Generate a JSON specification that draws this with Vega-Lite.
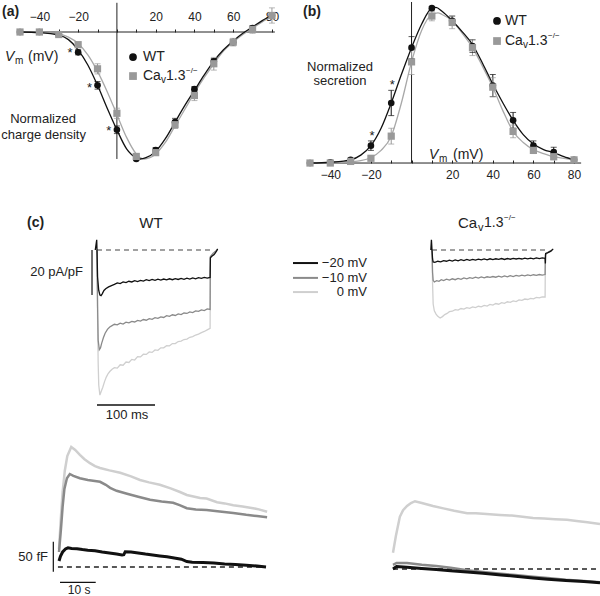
{
"$schema":"https://vega.github.io/schema/vega-lite/v6.json",
"padding":0,
"spacing":0,
"bounds":"flush",
"columns":2,
"config":{"view":{"stroke":null},"font":"Liberation Sans","concat":{"spacing":0},"text":{"color":"#222"}},
"datasets":{
"pts":[
{"p":"a","g":"WT","x":-50,"y":0,"lo":0,"hi":0},{"p":"a","g":"WT","x":-40,"y":0,"lo":0,"hi":0},{"p":"a","g":"WT","x":-30,"y":0.02,"lo":0.01,"hi":0.03},{"p":"a","g":"WT","x":-20,"y":0.16,"lo":0.14,"hi":0.18},{"p":"a","g":"WT","x":-10,"y":0.42,"lo":0.39,"hi":0.45},{"p":"a","g":"WT","x":0,"y":0.77,"lo":0.74,"hi":0.8},{"p":"a","g":"WT","x":10,"y":1.0,"lo":0.99,"hi":1.01},{"p":"a","g":"WT","x":20,"y":0.93,"lo":0.91,"hi":0.95},{"p":"a","g":"WT","x":30,"y":0.71,"lo":0.68,"hi":0.74},{"p":"a","g":"WT","x":40,"y":0.45,"lo":0.43,"hi":0.47},{"p":"a","g":"WT","x":50,"y":0.23,"lo":0.21,"hi":0.25},{"p":"a","g":"WT","x":60,"y":0.08,"lo":0.06,"hi":0.1},{"p":"a","g":"WT","x":70,"y":-0.03,"lo":-0.05,"hi":-0.01},{"p":"a","g":"WT","x":80,"y":-0.13,"lo":-0.15,"hi":-0.11},
{"p":"a","g":"KO","x":-50,"y":0,"lo":0,"hi":0},{"p":"a","g":"KO","x":-40,"y":0,"lo":0,"hi":0},{"p":"a","g":"KO","x":-30,"y":0.02,"lo":0.01,"hi":0.03},{"p":"a","g":"KO","x":-20,"y":0.1,"lo":0.08,"hi":0.12},{"p":"a","g":"KO","x":-10,"y":0.29,"lo":0.25,"hi":0.33},{"p":"a","g":"KO","x":0,"y":0.64,"lo":0.6,"hi":0.68},{"p":"a","g":"KO","x":10,"y":0.98,"lo":0.97,"hi":0.99},{"p":"a","g":"KO","x":20,"y":0.95,"lo":0.93,"hi":0.97},{"p":"a","g":"KO","x":30,"y":0.73,"lo":0.7,"hi":0.76},{"p":"a","g":"KO","x":40,"y":0.5,"lo":0.46,"hi":0.54},{"p":"a","g":"KO","x":50,"y":0.25,"lo":0.2,"hi":0.3},{"p":"a","g":"KO","x":60,"y":0.08,"lo":0.05,"hi":0.11},{"p":"a","g":"KO","x":70,"y":-0.02,"lo":-0.05,"hi":0.01},{"p":"a","g":"KO","x":80,"y":-0.13,"lo":-0.19,"hi":-0.07},
{"p":"b","g":"WT","x":-50,"y":0,"lo":0,"hi":0},{"p":"b","g":"WT","x":-40,"y":0.005,"lo":0.005,"hi":0.005},{"p":"b","g":"WT","x":-30,"y":0.02,"lo":0.01,"hi":0.03},{"p":"b","g":"WT","x":-20,"y":0.11,"lo":0.08,"hi":0.14},{"p":"b","g":"WT","x":-10,"y":0.38,"lo":0.3,"hi":0.46},{"p":"b","g":"WT","x":0,"y":0.73,"lo":0.66,"hi":0.8},{"p":"b","g":"WT","x":10,"y":0.98,"lo":0.97,"hi":0.99},{"p":"b","g":"WT","x":20,"y":0.9,"lo":0.87,"hi":0.93},{"p":"b","g":"WT","x":30,"y":0.74,"lo":0.7,"hi":0.78},{"p":"b","g":"WT","x":40,"y":0.49,"lo":0.42,"hi":0.56},{"p":"b","g":"WT","x":50,"y":0.27,"lo":0.22,"hi":0.32},{"p":"b","g":"WT","x":60,"y":0.11,"lo":0.08,"hi":0.14},{"p":"b","g":"WT","x":70,"y":0.07,"lo":0.04,"hi":0.1},{"p":"b","g":"WT","x":80,"y":0.02,"lo":0.01,"hi":0.03},
{"p":"b","g":"KO","x":-50,"y":0,"lo":0,"hi":0},{"p":"b","g":"KO","x":-40,"y":0,"lo":0,"hi":0},{"p":"b","g":"KO","x":-30,"y":0.01,"lo":0.01,"hi":0.01},{"p":"b","g":"KO","x":-20,"y":0.03,"lo":0.02,"hi":0.04},{"p":"b","g":"KO","x":-10,"y":0.17,"lo":0.12,"hi":0.22},{"p":"b","g":"KO","x":0,"y":0.64,"lo":0.56,"hi":0.72},{"p":"b","g":"KO","x":10,"y":0.93,"lo":0.9,"hi":0.96},{"p":"b","g":"KO","x":20,"y":0.89,"lo":0.85,"hi":0.93},{"p":"b","g":"KO","x":30,"y":0.73,"lo":0.68,"hi":0.78},{"p":"b","g":"KO","x":40,"y":0.48,"lo":0.42,"hi":0.54},{"p":"b","g":"KO","x":50,"y":0.2,"lo":0.16,"hi":0.24},{"p":"b","g":"KO","x":60,"y":0.08,"lo":0.06,"hi":0.1},{"p":"b","g":"KO","x":70,"y":0.04,"lo":0.02,"hi":0.06},{"p":"b","g":"KO","x":80,"y":0.02,"lo":0.01,"hi":0.03}
],
"fits":[
{"p":"a","g":"WT","x":-50,"y":0},{"p":"a","g":"WT","x":-40,"y":0.005},{"p":"a","g":"WT","x":-30,"y":0.025},{"p":"a","g":"WT","x":-25,"y":0.06},{"p":"a","g":"WT","x":-20,"y":0.14},{"p":"a","g":"WT","x":-15,"y":0.26},{"p":"a","g":"WT","x":-10,"y":0.42},{"p":"a","g":"WT","x":-5,"y":0.6},{"p":"a","g":"WT","x":0,"y":0.77},{"p":"a","g":"WT","x":5,"y":0.92},{"p":"a","g":"WT","x":10,"y":0.99},{"p":"a","g":"WT","x":12,"y":1.0},{"p":"a","g":"WT","x":15,"y":0.99},{"p":"a","g":"WT","x":20,"y":0.94},{"p":"a","g":"WT","x":25,"y":0.84},{"p":"a","g":"WT","x":30,"y":0.71},{"p":"a","g":"WT","x":35,"y":0.58},{"p":"a","g":"WT","x":40,"y":0.46},{"p":"a","g":"WT","x":45,"y":0.34},{"p":"a","g":"WT","x":50,"y":0.23},{"p":"a","g":"WT","x":55,"y":0.14},{"p":"a","g":"WT","x":60,"y":0.07},{"p":"a","g":"WT","x":65,"y":0.01},{"p":"a","g":"WT","x":70,"y":-0.04},{"p":"a","g":"WT","x":75,"y":-0.09},{"p":"a","g":"WT","x":80,"y":-0.13},
{"p":"a","g":"KO","x":-50,"y":0},{"p":"a","g":"KO","x":-40,"y":0.003},{"p":"a","g":"KO","x":-30,"y":0.015},{"p":"a","g":"KO","x":-25,"y":0.04},{"p":"a","g":"KO","x":-20,"y":0.09},{"p":"a","g":"KO","x":-15,"y":0.18},{"p":"a","g":"KO","x":-10,"y":0.31},{"p":"a","g":"KO","x":-5,"y":0.47},{"p":"a","g":"KO","x":0,"y":0.65},{"p":"a","g":"KO","x":5,"y":0.83},{"p":"a","g":"KO","x":10,"y":0.96},{"p":"a","g":"KO","x":14,"y":1.0},{"p":"a","g":"KO","x":17,"y":0.99},{"p":"a","g":"KO","x":20,"y":0.96},{"p":"a","g":"KO","x":25,"y":0.87},{"p":"a","g":"KO","x":30,"y":0.74},{"p":"a","g":"KO","x":35,"y":0.61},{"p":"a","g":"KO","x":40,"y":0.48},{"p":"a","g":"KO","x":45,"y":0.36},{"p":"a","g":"KO","x":50,"y":0.25},{"p":"a","g":"KO","x":55,"y":0.15},{"p":"a","g":"KO","x":60,"y":0.08},{"p":"a","g":"KO","x":65,"y":0.02},{"p":"a","g":"KO","x":70,"y":-0.03},{"p":"a","g":"KO","x":75,"y":-0.08},{"p":"a","g":"KO","x":80,"y":-0.12},
{"p":"b","g":"WT","x":-50,"y":0},{"p":"b","g":"WT","x":-40,"y":0.005},{"p":"b","g":"WT","x":-30,"y":0.02},{"p":"b","g":"WT","x":-25,"y":0.05},{"p":"b","g":"WT","x":-20,"y":0.11},{"p":"b","g":"WT","x":-15,"y":0.22},{"p":"b","g":"WT","x":-10,"y":0.38},{"p":"b","g":"WT","x":-5,"y":0.56},{"p":"b","g":"WT","x":0,"y":0.73},{"p":"b","g":"WT","x":5,"y":0.88},{"p":"b","g":"WT","x":10,"y":0.98},{"p":"b","g":"WT","x":12,"y":0.985},{"p":"b","g":"WT","x":15,"y":0.96},{"p":"b","g":"WT","x":20,"y":0.9},{"p":"b","g":"WT","x":25,"y":0.83},{"p":"b","g":"WT","x":30,"y":0.75},{"p":"b","g":"WT","x":35,"y":0.63},{"p":"b","g":"WT","x":40,"y":0.5},{"p":"b","g":"WT","x":45,"y":0.38},{"p":"b","g":"WT","x":50,"y":0.27},{"p":"b","g":"WT","x":55,"y":0.18},{"p":"b","g":"WT","x":60,"y":0.12},{"p":"b","g":"WT","x":65,"y":0.085},{"p":"b","g":"WT","x":70,"y":0.065},{"p":"b","g":"WT","x":75,"y":0.04},{"p":"b","g":"WT","x":80,"y":0.02},
{"p":"b","g":"KO","x":-50,"y":0},{"p":"b","g":"KO","x":-40,"y":0.002},{"p":"b","g":"KO","x":-30,"y":0.008},{"p":"b","g":"KO","x":-25,"y":0.015},{"p":"b","g":"KO","x":-20,"y":0.035},{"p":"b","g":"KO","x":-15,"y":0.08},{"p":"b","g":"KO","x":-10,"y":0.17},{"p":"b","g":"KO","x":-5,"y":0.38},{"p":"b","g":"KO","x":0,"y":0.64},{"p":"b","g":"KO","x":5,"y":0.84},{"p":"b","g":"KO","x":10,"y":0.94},{"p":"b","g":"KO","x":13,"y":0.95},{"p":"b","g":"KO","x":15,"y":0.94},{"p":"b","g":"KO","x":20,"y":0.9},{"p":"b","g":"KO","x":25,"y":0.82},{"p":"b","g":"KO","x":30,"y":0.73},{"p":"b","g":"KO","x":35,"y":0.61},{"p":"b","g":"KO","x":40,"y":0.48},{"p":"b","g":"KO","x":45,"y":0.33},{"p":"b","g":"KO","x":50,"y":0.2},{"p":"b","g":"KO","x":55,"y":0.13},{"p":"b","g":"KO","x":60,"y":0.085},{"p":"b","g":"KO","x":65,"y":0.06},{"p":"b","g":"KO","x":70,"y":0.04},{"p":"b","g":"KO","x":75,"y":0.03},{"p":"b","g":"KO","x":80,"y":0.02}
],
"cur":[
{"p":"c1","tr":"-20","x":-3,"y":0},{"p":"c1","tr":"-20","x":-0.5,"y":4.5},{"p":"c1","tr":"-20","x":0,"y":0},{"p":"c1","tr":"-20","x":1,"y":-12},{"p":"c1","tr":"-20","x":3,"y":-18},{"p":"c1","tr":"-20","x":5,"y":-20},{"p":"c1","tr":"-20","x":7,"y":-20.3},{"p":"c1","tr":"-20","x":9,"y":-19.5},{"p":"c1","tr":"-20","x":12,"y":-18},{"p":"c1","tr":"-20","x":15,"y":-17.2},{"p":"c1","tr":"-20","x":20,"y":-16.4},{"p":"c1","tr":"-20","x":25,"y":-15.8},{"p":"c1","tr":"-20","x":30,"y":-15.3},{"p":"c1","tr":"-20","x":35,"y":-14.6},{"p":"c1","tr":"-20","x":40,"y":-14.9},{"p":"c1","tr":"-20","x":45,"y":-14.2},{"p":"c1","tr":"-20","x":50,"y":-14.5},{"p":"c1","tr":"-20","x":55,"y":-13.9},{"p":"c1","tr":"-20","x":60,"y":-14.2},{"p":"c1","tr":"-20","x":65,"y":-13.6},{"p":"c1","tr":"-20","x":70,"y":-14},{"p":"c1","tr":"-20","x":75,"y":-13.5},{"p":"c1","tr":"-20","x":80,"y":-13.8},{"p":"c1","tr":"-20","x":85,"y":-13.2},{"p":"c1","tr":"-20","x":90,"y":-13.6},{"p":"c1","tr":"-20","x":95,"y":-13.1},{"p":"c1","tr":"-20","x":100,"y":-13.5},{"p":"c1","tr":"-20","x":105,"y":-13},{"p":"c1","tr":"-20","x":110,"y":-13.4},{"p":"c1","tr":"-20","x":115,"y":-12.9},{"p":"c1","tr":"-20","x":120,"y":-13.3},{"p":"c1","tr":"-20","x":125,"y":-12.8},{"p":"c1","tr":"-20","x":130,"y":-13.2},{"p":"c1","tr":"-20","x":135,"y":-12.7},{"p":"c1","tr":"-20","x":140,"y":-13.1},{"p":"c1","tr":"-20","x":145,"y":-12.6},{"p":"c1","tr":"-20","x":150,"y":-13},{"p":"c1","tr":"-20","x":155,"y":-12.5},{"p":"c1","tr":"-20","x":160,"y":-12.9},{"p":"c1","tr":"-20","x":165,"y":-12.4},{"p":"c1","tr":"-20","x":170,"y":-12.8},{"p":"c1","tr":"-20","x":175,"y":-12.3},{"p":"c1","tr":"-20","x":180,"y":-12.6},{"p":"c1","tr":"-20","x":185,"y":-12.2},{"p":"c1","tr":"-20","x":190,"y":-12.5},{"p":"c1","tr":"-20","x":195,"y":-12.2},{"p":"c1","tr":"-20","x":195.5,"y":-3.5},{"p":"c1","tr":"-20","x":198,"y":-2.8},{"p":"c1","tr":"-20","x":202,"y":-2},{"p":"c1","tr":"-20","x":206,"y":-0.5},{"p":"c1","tr":"-20","x":208,"y":0.5},
{"p":"c1","tr":"-10","x":0,"y":0},{"p":"c1","tr":"-10","x":1,"y":-25},{"p":"c1","tr":"-10","x":2,"y":-40},{"p":"c1","tr":"-10","x":4,"y":-44.3},{"p":"c1","tr":"-10","x":6,"y":-43.5},{"p":"c1","tr":"-10","x":8,"y":-41.5},{"p":"c1","tr":"-10","x":11,"y":-39},{"p":"c1","tr":"-10","x":14,"y":-37},{"p":"c1","tr":"-10","x":18,"y":-35.3},{"p":"c1","tr":"-10","x":22,"y":-34.2},{"p":"c1","tr":"-10","x":26,"y":-33.6},{"p":"c1","tr":"-10","x":30,"y":-33},{"p":"c1","tr":"-10","x":35,"y":-33.3},{"p":"c1","tr":"-10","x":40,"y":-32.5},{"p":"c1","tr":"-10","x":45,"y":-32.9},{"p":"c1","tr":"-10","x":50,"y":-32.1},{"p":"c1","tr":"-10","x":55,"y":-32.4},{"p":"c1","tr":"-10","x":60,"y":-31.7},{"p":"c1","tr":"-10","x":65,"y":-32},{"p":"c1","tr":"-10","x":70,"y":-31.3},{"p":"c1","tr":"-10","x":75,"y":-31.6},{"p":"c1","tr":"-10","x":80,"y":-30.9},{"p":"c1","tr":"-10","x":85,"y":-31.2},{"p":"c1","tr":"-10","x":90,"y":-30.5},{"p":"c1","tr":"-10","x":95,"y":-30.8},{"p":"c1","tr":"-10","x":100,"y":-30.1},{"p":"c1","tr":"-10","x":105,"y":-30.4},{"p":"c1","tr":"-10","x":110,"y":-29.7},{"p":"c1","tr":"-10","x":115,"y":-30},{"p":"c1","tr":"-10","x":120,"y":-29.2},{"p":"c1","tr":"-10","x":125,"y":-29.5},{"p":"c1","tr":"-10","x":130,"y":-28.8},{"p":"c1","tr":"-10","x":135,"y":-29.1},{"p":"c1","tr":"-10","x":140,"y":-28.4},{"p":"c1","tr":"-10","x":145,"y":-28.7},{"p":"c1","tr":"-10","x":150,"y":-28},{"p":"c1","tr":"-10","x":155,"y":-28.2},{"p":"c1","tr":"-10","x":160,"y":-27.5},{"p":"c1","tr":"-10","x":165,"y":-27.8},{"p":"c1","tr":"-10","x":170,"y":-27.1},{"p":"c1","tr":"-10","x":175,"y":-27.3},{"p":"c1","tr":"-10","x":180,"y":-26.6},{"p":"c1","tr":"-10","x":185,"y":-26.9},{"p":"c1","tr":"-10","x":190,"y":-26.2},{"p":"c1","tr":"-10","x":195,"y":-26.4},{"p":"c1","tr":"-10","x":195.5,"y":-3},{"p":"c1","tr":"-10","x":200,"y":-1.5},{"p":"c1","tr":"-10","x":207,"y":0},
{"p":"c1","tr":"0","x":0,"y":0},{"p":"c1","tr":"0","x":1,"y":-30},{"p":"c1","tr":"0","x":2,"y":-50},{"p":"c1","tr":"0","x":3,"y":-60},{"p":"c1","tr":"0","x":5,"y":-64.5},{"p":"c1","tr":"0","x":7,"y":-63},{"p":"c1","tr":"0","x":10,"y":-61},{"p":"c1","tr":"0","x":13,"y":-58.5},{"p":"c1","tr":"0","x":16,"y":-56.5},{"p":"c1","tr":"0","x":19,"y":-55},{"p":"c1","tr":"0","x":22,"y":-54},{"p":"c1","tr":"0","x":26,"y":-53},{"p":"c1","tr":"0","x":30,"y":-52.3},{"p":"c1","tr":"0","x":35,"y":-52.5},{"p":"c1","tr":"0","x":40,"y":-51},{"p":"c1","tr":"0","x":45,"y":-51.2},{"p":"c1","tr":"0","x":50,"y":-49.8},{"p":"c1","tr":"0","x":55,"y":-50},{"p":"c1","tr":"0","x":60,"y":-48.6},{"p":"c1","tr":"0","x":65,"y":-48.9},{"p":"c1","tr":"0","x":70,"y":-47.4},{"p":"c1","tr":"0","x":75,"y":-47.5},{"p":"c1","tr":"0","x":80,"y":-46.3},{"p":"c1","tr":"0","x":85,"y":-46.4},{"p":"c1","tr":"0","x":90,"y":-45.3},{"p":"c1","tr":"0","x":95,"y":-45.5},{"p":"c1","tr":"0","x":100,"y":-44.4},{"p":"c1","tr":"0","x":105,"y":-44.6},{"p":"c1","tr":"0","x":110,"y":-43.5},{"p":"c1","tr":"0","x":115,"y":-43.5},{"p":"c1","tr":"0","x":120,"y":-42.5},{"p":"c1","tr":"0","x":125,"y":-42.6},{"p":"c1","tr":"0","x":130,"y":-41.6},{"p":"c1","tr":"0","x":135,"y":-41.6},{"p":"c1","tr":"0","x":140,"y":-40.7},{"p":"c1","tr":"0","x":145,"y":-40.5},{"p":"c1","tr":"0","x":150,"y":-39.8},{"p":"c1","tr":"0","x":155,"y":-39.6},{"p":"c1","tr":"0","x":160,"y":-38.8},{"p":"c1","tr":"0","x":165,"y":-38.5},{"p":"c1","tr":"0","x":170,"y":-37.8},{"p":"c1","tr":"0","x":175,"y":-37.4},{"p":"c1","tr":"0","x":180,"y":-36.7},{"p":"c1","tr":"0","x":185,"y":-36.2},{"p":"c1","tr":"0","x":190,"y":-35.5},{"p":"c1","tr":"0","x":195,"y":-34.8},{"p":"c1","tr":"0","x":195.5,"y":-3},{"p":"c1","tr":"0","x":200,"y":-1.5},{"p":"c1","tr":"0","x":207,"y":0},
{"p":"c2","tr":"-20","x":-2,"y":0},{"p":"c2","tr":"-20","x":-1,"y":4.5},{"p":"c2","tr":"-20","x":0,"y":0},{"p":"c2","tr":"-20","x":1,"y":-4},{"p":"c2","tr":"-20","x":2,"y":-5.3},{"p":"c2","tr":"-20","x":5,"y":-5.5},{"p":"c2","tr":"-20","x":10,"y":-5},{"p":"c2","tr":"-20","x":15,"y":-5.3},{"p":"c2","tr":"-20","x":20,"y":-4.7},{"p":"c2","tr":"-20","x":25,"y":-5},{"p":"c2","tr":"-20","x":30,"y":-4.5},{"p":"c2","tr":"-20","x":35,"y":-4.9},{"p":"c2","tr":"-20","x":40,"y":-4.4},{"p":"c2","tr":"-20","x":45,"y":-4.8},{"p":"c2","tr":"-20","x":50,"y":-4.3},{"p":"c2","tr":"-20","x":55,"y":-4.7},{"p":"c2","tr":"-20","x":60,"y":-4.2},{"p":"c2","tr":"-20","x":65,"y":-4.6},{"p":"c2","tr":"-20","x":70,"y":-4.2},{"p":"c2","tr":"-20","x":75,"y":-4.5},{"p":"c2","tr":"-20","x":80,"y":-4.1},{"p":"c2","tr":"-20","x":85,"y":-4.4},{"p":"c2","tr":"-20","x":90,"y":-4},{"p":"c2","tr":"-20","x":95,"y":-4.4},{"p":"c2","tr":"-20","x":100,"y":-3.9},{"p":"c2","tr":"-20","x":105,"y":-4.3},{"p":"c2","tr":"-20","x":110,"y":-3.9},{"p":"c2","tr":"-20","x":115,"y":-4.2},{"p":"c2","tr":"-20","x":120,"y":-3.8},{"p":"c2","tr":"-20","x":125,"y":-4.2},{"p":"c2","tr":"-20","x":130,"y":-3.8},{"p":"c2","tr":"-20","x":135,"y":-4.1},{"p":"c2","tr":"-20","x":140,"y":-3.7},{"p":"c2","tr":"-20","x":145,"y":-4},{"p":"c2","tr":"-20","x":150,"y":-3.7},{"p":"c2","tr":"-20","x":155,"y":-4},{"p":"c2","tr":"-20","x":160,"y":-3.6},{"p":"c2","tr":"-20","x":165,"y":-3.9},{"p":"c2","tr":"-20","x":170,"y":-3.6},{"p":"c2","tr":"-20","x":175,"y":-3.9},{"p":"c2","tr":"-20","x":180,"y":-3.5},{"p":"c2","tr":"-20","x":185,"y":-3.8},{"p":"c2","tr":"-20","x":190,"y":-3.5},{"p":"c2","tr":"-20","x":195,"y":-3.7},{"p":"c2","tr":"-20","x":195.5,"y":-6},{"p":"c2","tr":"-20","x":196,"y":-1.5},{"p":"c2","tr":"-20","x":200,"y":-1.2},{"p":"c2","tr":"-20","x":205,"y":-0.5},{"p":"c2","tr":"-20","x":209,"y":0.5},
{"p":"c2","tr":"-10","x":0,"y":0},{"p":"c2","tr":"-10","x":1,"y":-10},{"p":"c2","tr":"-10","x":2,"y":-13.5},{"p":"c2","tr":"-10","x":4,"y":-14.2},{"p":"c2","tr":"-10","x":8,"y":-13.6},{"p":"c2","tr":"-10","x":12,"y":-13.9},{"p":"c2","tr":"-10","x":16,"y":-13.2},{"p":"c2","tr":"-10","x":20,"y":-13.6},{"p":"c2","tr":"-10","x":25,"y":-13},{"p":"c2","tr":"-10","x":30,"y":-13.4},{"p":"c2","tr":"-10","x":35,"y":-12.8},{"p":"c2","tr":"-10","x":40,"y":-13.2},{"p":"c2","tr":"-10","x":45,"y":-12.6},{"p":"c2","tr":"-10","x":50,"y":-13},{"p":"c2","tr":"-10","x":55,"y":-12.4},{"p":"c2","tr":"-10","x":60,"y":-12.8},{"p":"c2","tr":"-10","x":65,"y":-12.3},{"p":"c2","tr":"-10","x":70,"y":-12.6},{"p":"c2","tr":"-10","x":75,"y":-12.1},{"p":"c2","tr":"-10","x":80,"y":-12.5},{"p":"c2","tr":"-10","x":85,"y":-12},{"p":"c2","tr":"-10","x":90,"y":-12.4},{"p":"c2","tr":"-10","x":95,"y":-11.9},{"p":"c2","tr":"-10","x":100,"y":-12.2},{"p":"c2","tr":"-10","x":105,"y":-11.8},{"p":"c2","tr":"-10","x":110,"y":-12.1},{"p":"c2","tr":"-10","x":115,"y":-11.6},{"p":"c2","tr":"-10","x":120,"y":-12},{"p":"c2","tr":"-10","x":125,"y":-11.5},{"p":"c2","tr":"-10","x":130,"y":-11.9},{"p":"c2","tr":"-10","x":135,"y":-11.4},{"p":"c2","tr":"-10","x":140,"y":-11.8},{"p":"c2","tr":"-10","x":145,"y":-11.3},{"p":"c2","tr":"-10","x":150,"y":-11.6},{"p":"c2","tr":"-10","x":155,"y":-11.2},{"p":"c2","tr":"-10","x":160,"y":-11.5},{"p":"c2","tr":"-10","x":165,"y":-11.1},{"p":"c2","tr":"-10","x":170,"y":-11.4},{"p":"c2","tr":"-10","x":175,"y":-11},{"p":"c2","tr":"-10","x":180,"y":-11.3},{"p":"c2","tr":"-10","x":185,"y":-10.9},{"p":"c2","tr":"-10","x":190,"y":-11.2},{"p":"c2","tr":"-10","x":195,"y":-10.9},{"p":"c2","tr":"-10","x":195.5,"y":-2},{"p":"c2","tr":"-10","x":200,"y":-1},{"p":"c2","tr":"-10","x":207,"y":0},
{"p":"c2","tr":"0","x":0,"y":0},{"p":"c2","tr":"0","x":1,"y":-15},{"p":"c2","tr":"0","x":2,"y":-24},{"p":"c2","tr":"0","x":4,"y":-27},{"p":"c2","tr":"0","x":7,"y":-28.5},{"p":"c2","tr":"0","x":10,"y":-29.5},{"p":"c2","tr":"0","x":14,"y":-30.2},{"p":"c2","tr":"0","x":18,"y":-29.6},{"p":"c2","tr":"0","x":22,"y":-28.7},{"p":"c2","tr":"0","x":26,"y":-28.2},{"p":"c2","tr":"0","x":30,"y":-27.4},{"p":"c2","tr":"0","x":35,"y":-27.2},{"p":"c2","tr":"0","x":40,"y":-26.5},{"p":"c2","tr":"0","x":45,"y":-26.7},{"p":"c2","tr":"0","x":50,"y":-26},{"p":"c2","tr":"0","x":55,"y":-26.3},{"p":"c2","tr":"0","x":60,"y":-25.6},{"p":"c2","tr":"0","x":65,"y":-25.9},{"p":"c2","tr":"0","x":70,"y":-25.3},{"p":"c2","tr":"0","x":75,"y":-25.6},{"p":"c2","tr":"0","x":80,"y":-25},{"p":"c2","tr":"0","x":85,"y":-25.3},{"p":"c2","tr":"0","x":90,"y":-24.6},{"p":"c2","tr":"0","x":95,"y":-24.9},{"p":"c2","tr":"0","x":100,"y":-24.2},{"p":"c2","tr":"0","x":105,"y":-24.5},{"p":"c2","tr":"0","x":110,"y":-23.8},{"p":"c2","tr":"0","x":115,"y":-24.1},{"p":"c2","tr":"0","x":120,"y":-23.4},{"p":"c2","tr":"0","x":125,"y":-23.7},{"p":"c2","tr":"0","x":130,"y":-23},{"p":"c2","tr":"0","x":135,"y":-23.3},{"p":"c2","tr":"0","x":140,"y":-22.6},{"p":"c2","tr":"0","x":145,"y":-22.9},{"p":"c2","tr":"0","x":150,"y":-22.2},{"p":"c2","tr":"0","x":155,"y":-22.4},{"p":"c2","tr":"0","x":160,"y":-21.8},{"p":"c2","tr":"0","x":165,"y":-22},{"p":"c2","tr":"0","x":170,"y":-21.5},{"p":"c2","tr":"0","x":175,"y":-21.7},{"p":"c2","tr":"0","x":180,"y":-21.1},{"p":"c2","tr":"0","x":185,"y":-21.3},{"p":"c2","tr":"0","x":190,"y":-20.8},{"p":"c2","tr":"0","x":195,"y":-20.9},{"p":"c2","tr":"0","x":195.5,"y":-2},{"p":"c2","tr":"0","x":200,"y":-1},{"p":"c2","tr":"0","x":207,"y":0}
],
"cap":[
{"p":"d1","tr":"-20","x":0,"y":10},{"p":"d1","tr":"-20","x":0.4,"y":18},{"p":"d1","tr":"-20","x":1,"y":25},{"p":"d1","tr":"-20","x":1.8,"y":30},{"p":"d1","tr":"-20","x":2.5,"y":32},{"p":"d1","tr":"-20","x":3.5,"y":31},{"p":"d1","tr":"-20","x":5,"y":30.5},{"p":"d1","tr":"-20","x":6.5,"y":29},{"p":"d1","tr":"-20","x":8,"y":28},{"p":"d1","tr":"-20","x":10,"y":27},{"p":"d1","tr":"-20","x":12,"y":25},{"p":"d1","tr":"-20","x":14,"y":23.5},{"p":"d1","tr":"-20","x":16,"y":21.5},{"p":"d1","tr":"-20","x":17.5,"y":20},{"p":"d1","tr":"-20","x":18,"y":20.5},{"p":"d1","tr":"-20","x":18.4,"y":25.5},{"p":"d1","tr":"-20","x":20,"y":25},{"p":"d1","tr":"-20","x":22,"y":23.5},{"p":"d1","tr":"-20","x":24,"y":21.5},{"p":"d1","tr":"-20","x":26,"y":20},{"p":"d1","tr":"-20","x":28,"y":18.5},{"p":"d1","tr":"-20","x":30,"y":17},{"p":"d1","tr":"-20","x":32,"y":15},{"p":"d1","tr":"-20","x":34,"y":13},{"p":"d1","tr":"-20","x":35.5,"y":9},{"p":"d1","tr":"-20","x":37,"y":8},{"p":"d1","tr":"-20","x":40,"y":7.5},{"p":"d1","tr":"-20","x":43,"y":6.5},{"p":"d1","tr":"-20","x":46,"y":5},{"p":"d1","tr":"-20","x":49,"y":4},{"p":"d1","tr":"-20","x":52,"y":3},{"p":"d1","tr":"-20","x":55,"y":1.5},{"p":"d1","tr":"-20","x":57.5,"y":0},
{"p":"d1","tr":"-10","x":0,"y":25},{"p":"d1","tr":"-10","x":0.5,"y":60},{"p":"d1","tr":"-10","x":1,"y":100},{"p":"d1","tr":"-10","x":1.5,"y":130},{"p":"d1","tr":"-10","x":2.2,"y":148},{"p":"d1","tr":"-10","x":3,"y":155},{"p":"d1","tr":"-10","x":4,"y":152},{"p":"d1","tr":"-10","x":5.8,"y":148},{"p":"d1","tr":"-10","x":8,"y":145},{"p":"d1","tr":"-10","x":11.4,"y":142},{"p":"d1","tr":"-10","x":13,"y":137},{"p":"d1","tr":"-10","x":14.2,"y":132},{"p":"d1","tr":"-10","x":16,"y":127},{"p":"d1","tr":"-10","x":18.9,"y":122},{"p":"d1","tr":"-10","x":22,"y":117},{"p":"d1","tr":"-10","x":25.3,"y":112},{"p":"d1","tr":"-10","x":28.5,"y":109},{"p":"d1","tr":"-10","x":31.7,"y":107},{"p":"d1","tr":"-10","x":33.5,"y":103},{"p":"d1","tr":"-10","x":35.5,"y":98},{"p":"d1","tr":"-10","x":38,"y":96},{"p":"d1","tr":"-10","x":41,"y":95},{"p":"d1","tr":"-10","x":44,"y":93},{"p":"d1","tr":"-10","x":48.4,"y":90},{"p":"d1","tr":"-10","x":52,"y":87},{"p":"d1","tr":"-10","x":55,"y":85},{"p":"d1","tr":"-10","x":57.8,"y":83},
{"p":"d1","tr":"0","x":0,"y":30},{"p":"d1","tr":"0","x":0.5,"y":80},{"p":"d1","tr":"0","x":1,"y":125},{"p":"d1","tr":"0","x":1.6,"y":160},{"p":"d1","tr":"0","x":2.3,"y":185},{"p":"d1","tr":"0","x":3.4,"y":200},{"p":"d1","tr":"0","x":4.5,"y":195},{"p":"d1","tr":"0","x":5.8,"y":187},{"p":"d1","tr":"0","x":7,"y":180},{"p":"d1","tr":"0","x":8.6,"y":173},{"p":"d1","tr":"0","x":10,"y":168},{"p":"d1","tr":"0","x":11.4,"y":165},{"p":"d1","tr":"0","x":14,"y":161},{"p":"d1","tr":"0","x":17,"y":157},{"p":"d1","tr":"0","x":20,"y":151},{"p":"d1","tr":"0","x":22.5,"y":145},{"p":"d1","tr":"0","x":25,"y":141},{"p":"d1","tr":"0","x":28,"y":137},{"p":"d1","tr":"0","x":31,"y":131},{"p":"d1","tr":"0","x":33.6,"y":125},{"p":"d1","tr":"0","x":35.5,"y":120},{"p":"d1","tr":"0","x":39.2,"y":115},{"p":"d1","tr":"0","x":41,"y":114},{"p":"d1","tr":"0","x":43.9,"y":108},{"p":"d1","tr":"0","x":46,"y":106},{"p":"d1","tr":"0","x":48.4,"y":103},{"p":"d1","tr":"0","x":51,"y":101},{"p":"d1","tr":"0","x":53.9,"y":98},{"p":"d1","tr":"0","x":55.5,"y":96},{"p":"d1","tr":"0","x":57.8,"y":92},
{"p":"d2","tr":"0","x":0,"y":27},{"p":"d2","tr":"0","x":0.8,"y":55},{"p":"d2","tr":"0","x":1.9,"y":87},{"p":"d2","tr":"0","x":2.8,"y":98},{"p":"d2","tr":"0","x":3.9,"y":105},{"p":"d2","tr":"0","x":5,"y":110},{"p":"d2","tr":"0","x":6.1,"y":113},{"p":"d2","tr":"0","x":8,"y":110},{"p":"d2","tr":"0","x":11.1,"y":105},{"p":"d2","tr":"0","x":14,"y":101},{"p":"d2","tr":"0","x":17,"y":97},{"p":"d2","tr":"0","x":20.6,"y":93},{"p":"d2","tr":"0","x":23,"y":93},{"p":"d2","tr":"0","x":25,"y":92},{"p":"d2","tr":"0","x":29.7,"y":90},{"p":"d2","tr":"0","x":33,"y":89},{"p":"d2","tr":"0","x":36,"y":87},{"p":"d2","tr":"0","x":38.9,"y":85},{"p":"d2","tr":"0","x":42,"y":84},{"p":"d2","tr":"0","x":45,"y":83},{"p":"d2","tr":"0","x":48.3,"y":82},{"p":"d2","tr":"0","x":51,"y":80},{"p":"d2","tr":"0","x":54,"y":78},{"p":"d2","tr":"0","x":57.5,"y":75},
{"p":"d2","tr":"-10","x":0,"y":7},{"p":"d2","tr":"-10","x":1,"y":10},{"p":"d2","tr":"-10","x":3.9,"y":10},{"p":"d2","tr":"-10","x":8,"y":7},{"p":"d2","tr":"-10","x":12,"y":5},{"p":"d2","tr":"-10","x":16,"y":2},{"p":"d2","tr":"-10","x":20.6,"y":-2},{"p":"d2","tr":"-10","x":25,"y":-5},{"p":"d2","tr":"-10","x":30,"y":-8},{"p":"d2","tr":"-10","x":34,"y":-10},{"p":"d2","tr":"-10","x":38.9,"y":-13},{"p":"d2","tr":"-10","x":43,"y":-15},{"p":"d2","tr":"-10","x":48,"y":-18},{"p":"d2","tr":"-10","x":53,"y":-20},{"p":"d2","tr":"-10","x":57.5,"y":-22},
{"p":"d2","tr":"-20","x":0,"y":0},{"p":"d2","tr":"-20","x":1,"y":4},{"p":"d2","tr":"-20","x":3.9,"y":3},{"p":"d2","tr":"-20","x":8,"y":1},{"p":"d2","tr":"-20","x":12,"y":-1},{"p":"d2","tr":"-20","x":16,"y":-3},{"p":"d2","tr":"-20","x":20.6,"y":-5},{"p":"d2","tr":"-20","x":25,"y":-7},{"p":"d2","tr":"-20","x":30,"y":-10},{"p":"d2","tr":"-20","x":34,"y":-12},{"p":"d2","tr":"-20","x":38.9,"y":-15},{"p":"d2","tr":"-20","x":43,"y":-17},{"p":"d2","tr":"-20","x":48,"y":-19},{"p":"d2","tr":"-20","x":53,"y":-21},{"p":"d2","tr":"-20","x":57.5,"y":-23}
]
},
"concat":[
{
"width":300,"height":200,
"encoding":{
"x":{"field":"x","type":"quantitative","scale":{"domain":[-60.32,94.48],"nice":false,"zero":false},"axis":{"orient":"top","offset":-32,"values":[-50,-40,-30,-20,-10,0,10,20,30,40,50,60,70,80],"labelExpr":"datum.value % 20 == 0 && datum.value != 0 ? datum.label : ''","domain":false,"grid":false,"tickSize":3,"tickColor":"#222","labelPadding":6,"labelFontSize":12,"labelColor":"#222","labelOverlap":false,"labelFlush":false,"title":null}},
"y":{"field":"y","type":"quantitative","scale":{"domain":[-0.252,1.323],"reverse":true,"nice":false,"zero":false},"axis":{"orient":"left","offset":-116.9,"values":[-0.2,-0.1,0,0.1,0.2,0.3,0.4,0.5,0.6,0.7,0.8,0.9,1],"format":".1f","labelExpr":"datum.value == 0.5 || datum.value == 1 ? datum.label : ''","domain":false,"grid":false,"tickSize":3,"tickColor":"#222","labelPadding":2,"labelFontSize":12,"labelColor":"#222","labelOverlap":false,"labelFlush":false,"title":null}}
},
"layer":[
{"data":{"values":[{"x":-51,"x2":81.5,"y":0}]},"mark":{"type":"rule","color":"#222","strokeWidth":1},"encoding":{"x2":{"field":"x2"}}},
{"data":{"values":[{"x":0,"y":-0.23,"y2":1.0}]},"mark":{"type":"rule","color":"#222","strokeWidth":1},"encoding":{"y2":{"field":"y2"}}},
{"data":{"name":"fits"},"transform":[{"filter":"datum.p=='a' && datum.g=='KO'"}],"mark":{"type":"line","color":"#a8a8a8","strokeWidth":1.3,"interpolate":"monotone"}},
{"data":{"name":"fits"},"transform":[{"filter":"datum.p=='a' && datum.g=='WT'"}],"mark":{"type":"line","color":"#111","strokeWidth":1.3,"interpolate":"monotone"}},
{"data":{"name":"pts"},"transform":[{"filter":"datum.p=='a' && datum.hi>datum.lo"}],"mark":{"type":"rule","strokeWidth":1},"encoding":{"y":{"field":"lo","type":"quantitative","scale":{"domain":[-0.252,1.323],"reverse":true,"nice":false,"zero":false},"axis":null},"y2":{"field":"hi"},"color":{"field":"g","type":"nominal","scale":{"domain":["WT","KO"],"range":["#111","#999"]},"legend":null}}},
{"data":{"name":"pts"},"transform":[{"filter":"datum.p=='a' && datum.hi>datum.lo"},{"fold":["lo","hi"],"as":["k","e"]}],"mark":{"type":"tick","orient":"horizontal","size":6,"thickness":1},"encoding":{"y":{"field":"e","type":"quantitative","scale":{"domain":[-0.252,1.323],"reverse":true,"nice":false,"zero":false},"axis":null},"color":{"field":"g","type":"nominal","scale":{"domain":["WT","KO"],"range":["#111","#999"]},"legend":null}}},
{"data":{"name":"pts"},"transform":[{"filter":"datum.p=='a' && datum.g=='WT'"}],"mark":{"type":"point","shape":"circle","filled":true,"size":44,"color":"#111","opacity":1}},
{"data":{"name":"pts"},"transform":[{"filter":"datum.p=='a' && datum.g=='KO'"}],"mark":{"type":"point","shape":"square","filled":true,"size":52,"color":"#999","opacity":1}},
{"data":{"values":[{"x":-20,"y":0.142},{"x":-10,"y":0.417},{"x":0,"y":0.756}]},"mark":{"type":"text","text":"*","fontSize":13,"dx":-8,"dy":3,"color":"#222"}},
{"data":{"values":[{"x":8.31,"y":0.197}]},"mark":{"type":"point","shape":"circle","filled":true,"size":60,"color":"#111","opacity":1}},
{"data":{"values":[{"x":8.31,"y":0.347}]},"mark":{"type":"point","shape":"square","filled":true,"size":60,"color":"#999","opacity":1}},
{"data":{"values":[{"x":8.31,"y":0.197,"t":"WT"}]},"mark":{"type":"text","align":"left","baseline":"middle","fontSize":14,"dx":10},"encoding":{"text":{"field":"t"}}},
{"data":{"values":[{"x":8.31,"y":0.347}]},"mark":{"type":"text","text":"Ca","align":"left","baseline":"middle","fontSize":14,"dx":10}},
{"data":{"values":[{"x":8.31,"y":0.347}]},"mark":{"type":"text","text":"v","align":"left","baseline":"middle","fontSize":10,"dx":28,"dy":4}},
{"data":{"values":[{"x":8.31,"y":0.347}]},"mark":{"type":"text","text":"1.3","align":"left","baseline":"middle","fontSize":14,"dx":33}},
{"data":{"values":[{"x":8.31,"y":0.347}]},"mark":{"type":"text","text":"−/−","align":"left","baseline":"middle","fontSize":8,"dx":53,"dy":-5}},
{"data":{"values":[{"x":-57.74,"y":0.197}]},"mark":{"type":"text","text":"V","align":"left","baseline":"middle","fontSize":14,"fontStyle":"italic"}},
{"data":{"values":[{"x":-57.74,"y":0.197}]},"mark":{"type":"text","text":"m","align":"left","baseline":"middle","fontSize":10,"dx":10,"dy":4}},
{"data":{"values":[{"x":-57.74,"y":0.197}]},"mark":{"type":"text","text":"(mV)","align":"left","baseline":"middle","fontSize":14,"dx":23}},
{"data":{"values":[{"x":-38.13,"y":0.685,"t":"Normalized"},{"x":-37.8,"y":0.811,"t":"charge density"}]},"mark":{"type":"text","align":"center","baseline":"middle","fontSize":13},"encoding":{"text":{"field":"t"}}},
{"data":{"values":[{"x":-59.3,"y":-0.157,"t":"(a)"}]},"mark":{"type":"text","align":"left","baseline":"middle","fontSize":14,"fontWeight":"bold"},"encoding":{"text":{"field":"t"}}}
]
},
{
"width":300,"height":200,
"encoding":{
"x":{"field":"x","type":"quantitative","scale":{"domain":[-54.92,92.79],"nice":false,"zero":false},"axis":{"orient":"bottom","offset":-37,"values":[-50,-40,-30,-20,-10,0,10,20,30,40,50,60,70,80],"labelExpr":"datum.value % 20 == 0 && datum.value != 0 ? datum.label : ''","domain":false,"grid":false,"tickSize":-3,"tickColor":"#222","labelPadding":9,"labelFontSize":12,"labelColor":"#222","labelOverlap":false,"labelFlush":false,"title":null}},
"y":{"field":"y","type":"quantitative","scale":{"domain":[-0.234,1.0316],"nice":false,"zero":false},"axis":{"orient":"left","offset":-111.5,"values":[0.1,0.2,0.3,0.4,0.5,0.6,0.7,0.8,0.9,1],"format":".1f","labelExpr":"round(datum.value*10) % 2 == 0 ? datum.label : ''","domain":false,"grid":false,"tickSize":3,"tickColor":"#222","labelPadding":3,"labelFontSize":12,"labelColor":"#222","labelOverlap":false,"labelFlush":false,"title":null}}
},
"layer":[
{"data":{"values":[{"x":-51.5,"x2":83.5,"y":0}]},"mark":{"type":"rule","color":"#222","strokeWidth":1},"encoding":{"x2":{"field":"x2"}}},
{"data":{"values":[{"x":0,"y":0,"y2":1.019}]},"mark":{"type":"rule","color":"#222","strokeWidth":1},"encoding":{"y2":{"field":"y2"}}},
{"data":{"name":"fits"},"transform":[{"filter":"datum.p=='b' && datum.g=='KO'"}],"mark":{"type":"line","color":"#a8a8a8","strokeWidth":1.3,"interpolate":"monotone"}},
{"data":{"name":"fits"},"transform":[{"filter":"datum.p=='b' && datum.g=='WT'"}],"mark":{"type":"line","color":"#111","strokeWidth":1.3,"interpolate":"monotone"}},
{"data":{"name":"pts"},"transform":[{"filter":"datum.p=='b' && datum.hi>datum.lo"}],"mark":{"type":"rule","strokeWidth":1},"encoding":{"y":{"field":"lo","type":"quantitative","scale":{"domain":[-0.234,1.0316],"nice":false,"zero":false},"axis":null},"y2":{"field":"hi"},"color":{"field":"g","type":"nominal","scale":{"domain":["WT","KO"],"range":["#111","#999"]},"legend":null}}},
{"data":{"name":"pts"},"transform":[{"filter":"datum.p=='b' && datum.hi>datum.lo"},{"fold":["lo","hi"],"as":["k","e"]}],"mark":{"type":"tick","orient":"horizontal","size":6,"thickness":1},"encoding":{"y":{"field":"e","type":"quantitative","scale":{"domain":[-0.234,1.0316],"nice":false,"zero":false},"axis":null},"color":{"field":"g","type":"nominal","scale":{"domain":["WT","KO"],"range":["#111","#999"]},"legend":null}}},
{"data":{"name":"pts"},"transform":[{"filter":"datum.p=='b' && datum.g=='WT'"}],"mark":{"type":"point","shape":"circle","filled":true,"size":44,"color":"#111","opacity":1}},
{"data":{"name":"pts"},"transform":[{"filter":"datum.p=='b' && datum.g=='KO'"}],"mark":{"type":"point","shape":"square","filled":true,"size":52,"color":"#999","opacity":1}},
{"data":{"values":[{"x":-20,"y":0.19},{"x":-10,"y":0.513}]},"mark":{"type":"text","text":"*","fontSize":13,"dx":1,"dy":3,"color":"#222"}},
{"data":{"values":[{"x":42.08,"y":0.899}]},"mark":{"type":"point","shape":"circle","filled":true,"size":60,"color":"#111","opacity":1}},
{"data":{"values":[{"x":42.08,"y":0.772}]},"mark":{"type":"point","shape":"square","filled":true,"size":60,"color":"#999","opacity":1}},
{"data":{"values":[{"x":42.08,"y":0.899,"t":"WT"}]},"mark":{"type":"text","align":"left","baseline":"middle","fontSize":14,"dx":8},"encoding":{"text":{"field":"t"}}},
{"data":{"values":[{"x":42.08,"y":0.772}]},"mark":{"type":"text","text":"Ca","align":"left","baseline":"middle","fontSize":14,"dx":8}},
{"data":{"values":[{"x":42.08,"y":0.772}]},"mark":{"type":"text","text":"v","align":"left","baseline":"middle","fontSize":10,"dx":26,"dy":4}},
{"data":{"values":[{"x":42.08,"y":0.772}]},"mark":{"type":"text","text":"1.3","align":"left","baseline":"middle","fontSize":14,"dx":31}},
{"data":{"values":[{"x":42.08,"y":0.772}]},"mark":{"type":"text","text":"−/−","align":"left","baseline":"middle","fontSize":8,"dx":51,"dy":-5}},
{"data":{"values":[{"x":8.6,"y":0.0506}]},"mark":{"type":"text","text":"V","align":"left","baseline":"middle","fontSize":14,"fontStyle":"italic"}},
{"data":{"values":[{"x":8.6,"y":0.0506}]},"mark":{"type":"text","text":"m","align":"left","baseline":"middle","fontSize":10,"dx":10,"dy":4}},
{"data":{"values":[{"x":8.6,"y":0.0506}]},"mark":{"type":"text","text":"(mV)","align":"left","baseline":"middle","fontSize":14,"dx":24}},
{"data":{"values":[{"x":-35.23,"y":0.608,"t":"Normalized"},{"x":-35.23,"y":0.519,"t":"secretion"}]},"mark":{"type":"text","align":"center","baseline":"middle","fontSize":13},"encoding":{"text":{"field":"t"}}},
{"data":{"values":[{"x":-53.44,"y":0.956,"t":"(b)"}]},"mark":{"type":"text","align":"left","baseline":"middle","fontSize":14,"fontWeight":"bold"},"encoding":{"text":{"field":"t"}}}
]
},
{
"width":300,"height":230,
"encoding":{
"x":{"field":"x","type":"quantitative","scale":{"domain":[-167.24,350],"nice":false,"zero":false},"axis":null},
"y":{"field":"y","type":"quantitative","scale":{"domain":[-80,22.22],"nice":false,"zero":false},"axis":null}
},
"layer":[
{"data":{"values":[{"x":0,"x2":200,"y":0}]},"mark":{"type":"rule","color":"#444","strokeWidth":1.2,"strokeDash":[5,4]},"encoding":{"x2":{"field":"x2"}}},
{"data":{"name":"cur"},"transform":[{"filter":"datum.p=='c1' && datum.tr=='0'"}],"mark":{"type":"line","color":"#cfcfcf","strokeWidth":1.3}},
{"data":{"name":"cur"},"transform":[{"filter":"datum.p=='c1' && datum.tr=='-10'"}],"mark":{"type":"line","color":"#8a8a8a","strokeWidth":1.3}},
{"data":{"name":"cur"},"transform":[{"filter":"datum.p=='c1' && datum.tr=='-20'"}],"mark":{"type":"line","color":"#111","strokeWidth":1.3}},
{"data":{"values":[{"x":-8.6,"y":0,"y2":-20}]},"mark":{"type":"rule","color":"#111","strokeWidth":1.2},"encoding":{"y2":{"field":"y2"}}},
{"data":{"values":[{"x":0,"x2":100,"y":-68.9}]},"mark":{"type":"rule","color":"#111","strokeWidth":1.5},"encoding":{"x2":{"field":"x2"}}},
{"data":{"values":[{"x":-120.7,"y":12,"t":"(c)"}]},"mark":{"type":"text","align":"left","baseline":"middle","fontSize":14,"fontWeight":"bold"},"encoding":{"text":{"field":"t"}}},
{"data":{"values":[{"x":93,"y":12,"t":"WT"}]},"mark":{"type":"text","align":"center","baseline":"middle","fontSize":15},"encoding":{"text":{"field":"t"}}},
{"data":{"values":[{"x":-24.1,"y":-9.8,"t":"20 pA/pF"}]},"mark":{"type":"text","align":"right","baseline":"middle","fontSize":13},"encoding":{"text":{"field":"t"}}},
{"data":{"values":[{"x":51.7,"y":-73.3,"t":"100 ms"}]},"mark":{"type":"text","align":"center","baseline":"middle","fontSize":13},"encoding":{"text":{"field":"t"}}}
]
},
{
"width":300,"height":230,
"encoding":{
"x":{"field":"x","type":"quantitative","scale":{"domain":[-227.59,289.66],"nice":false,"zero":false},"axis":null},
"y":{"field":"y","type":"quantitative","scale":{"domain":[-80,22.22],"nice":false,"zero":false},"axis":null}
},
"layer":[
{"data":{"values":[{"x":0,"x2":200,"y":0}]},"mark":{"type":"rule","color":"#444","strokeWidth":1.2,"strokeDash":[5,4]},"encoding":{"x2":{"field":"x2"}}},
{"data":{"name":"cur"},"transform":[{"filter":"datum.p=='c2' && datum.tr=='0'"}],"mark":{"type":"line","color":"#cfcfcf","strokeWidth":1.3}},
{"data":{"name":"cur"},"transform":[{"filter":"datum.p=='c2' && datum.tr=='-10'"}],"mark":{"type":"line","color":"#8a8a8a","strokeWidth":1.3}},
{"data":{"name":"cur"},"transform":[{"filter":"datum.p=='c2' && datum.tr=='-20'"}],"mark":{"type":"line","color":"#111","strokeWidth":1.3}},
{"data":{"values":[{"x":-239.7,"x2":-196.6,"y":-5.8}]},"mark":{"type":"rule","strokeWidth":2,"color":"#111"},"encoding":{"x2":{"field":"x2"}}},
{"data":{"values":[{"x":-239.7,"x2":-196.6,"y":-12.4}]},"mark":{"type":"rule","strokeWidth":2,"color":"#8a8a8a"},"encoding":{"x2":{"field":"x2"}}},
{"data":{"values":[{"x":-239.7,"x2":-196.6,"y":-18.7}]},"mark":{"type":"rule","strokeWidth":2,"color":"#cfcfcf"},"encoding":{"x2":{"field":"x2"}}},
{"data":{"values":[{"x":-112.1,"y":-5.8,"t":"−20 mV"},{"x":-112.1,"y":-12.4,"t":"−10 mV"},{"x":-112.1,"y":-18.7,"t":"0 mV"}]},"mark":{"type":"text","align":"right","baseline":"middle","fontSize":13},"encoding":{"text":{"field":"t"}}},
{"data":{"values":[{"x":44.8,"y":12}]},"mark":{"type":"text","text":"Ca","align":"left","baseline":"middle","fontSize":15}},
{"data":{"values":[{"x":44.8,"y":12}]},"mark":{"type":"text","text":"v","align":"left","baseline":"middle","fontSize":11,"dx":20,"dy":5}},
{"data":{"values":[{"x":44.8,"y":12}]},"mark":{"type":"text","text":"1.3","align":"left","baseline":"middle","fontSize":14,"dx":26}},
{"data":{"values":[{"x":44.8,"y":12}]},"mark":{"type":"text","text":"−/−","align":"left","baseline":"middle","fontSize":8,"dx":46,"dy":-5}}
]
},
{
"width":300,"height":166,
"encoding":{
"x":{"field":"x","type":"quantitative","scale":{"domain":[-16.39,66.94],"nice":false,"zero":false},"axis":null},
"y":{"field":"y","type":"quantitative","scale":{"domain":[-48.33,228.33],"nice":false,"zero":false},"axis":null}
},
"layer":[
{"data":{"values":[{"x":-0.3,"x2":57.3,"y":0}]},"mark":{"type":"rule","color":"#222","strokeWidth":1.3,"strokeDash":[5,4]},"encoding":{"x2":{"field":"x2"}}},
{"data":{"name":"cap"},"transform":[{"filter":"datum.p=='d1' && datum.tr=='0'"}],"mark":{"type":"line","color":"#cfcfcf","strokeWidth":2.5}},
{"data":{"name":"cap"},"transform":[{"filter":"datum.p=='d1' && datum.tr=='-10'"}],"mark":{"type":"line","color":"#8a8a8a","strokeWidth":2.5}},
{"data":{"name":"cap"},"transform":[{"filter":"datum.p=='d1' && datum.tr=='-20'"}],"mark":{"type":"line","color":"#111","strokeWidth":3}},
{"data":{"values":[{"x":-1.58,"y":-7.8,"y2":42.2}]},"mark":{"type":"rule","color":"#111","strokeWidth":1.2},"encoding":{"y2":{"field":"y2"}}},
{"data":{"values":[{"x":0.28,"x2":10.2,"y":-25.5}]},"mark":{"type":"rule","color":"#111","strokeWidth":1.2},"encoding":{"x2":{"field":"x2"}}},
{"data":{"values":[{"x":-3.06,"y":16.7,"t":"50 fF"}]},"mark":{"type":"text","align":"right","baseline":"middle","fontSize":13},"encoding":{"text":{"field":"t"}}},
{"data":{"values":[{"x":5.6,"y":-38.5,"t":"10 s"}]},"mark":{"type":"text","align":"center","baseline":"middle","fontSize":12},"encoding":{"text":{"field":"t"}}}
]
},
{
"width":300,"height":166,
"encoding":{
"x":{"field":"x","type":"quantitative","scale":{"domain":[-25.83,57.5],"nice":false,"zero":false},"axis":null},
"y":{"field":"y","type":"quantitative","scale":{"domain":[-45,231.67],"nice":false,"zero":false},"axis":null}
},
"layer":[
{"data":{"values":[{"x":0,"x2":57.5,"y":0}]},"mark":{"type":"rule","color":"#222","strokeWidth":1.3,"strokeDash":[5,4]},"encoding":{"x2":{"field":"x2"}}},
{"data":{"name":"cap"},"transform":[{"filter":"datum.p=='d2' && datum.tr=='0'"}],"mark":{"type":"line","color":"#cfcfcf","strokeWidth":2.5}},
{"data":{"name":"cap"},"transform":[{"filter":"datum.p=='d2' && datum.tr=='-10'"}],"mark":{"type":"line","color":"#8a8a8a","strokeWidth":2.5}},
{"data":{"name":"cap"},"transform":[{"filter":"datum.p=='d2' && datum.tr=='-20'"}],"mark":{"type":"line","color":"#111","strokeWidth":3}}
]
}
]
}
